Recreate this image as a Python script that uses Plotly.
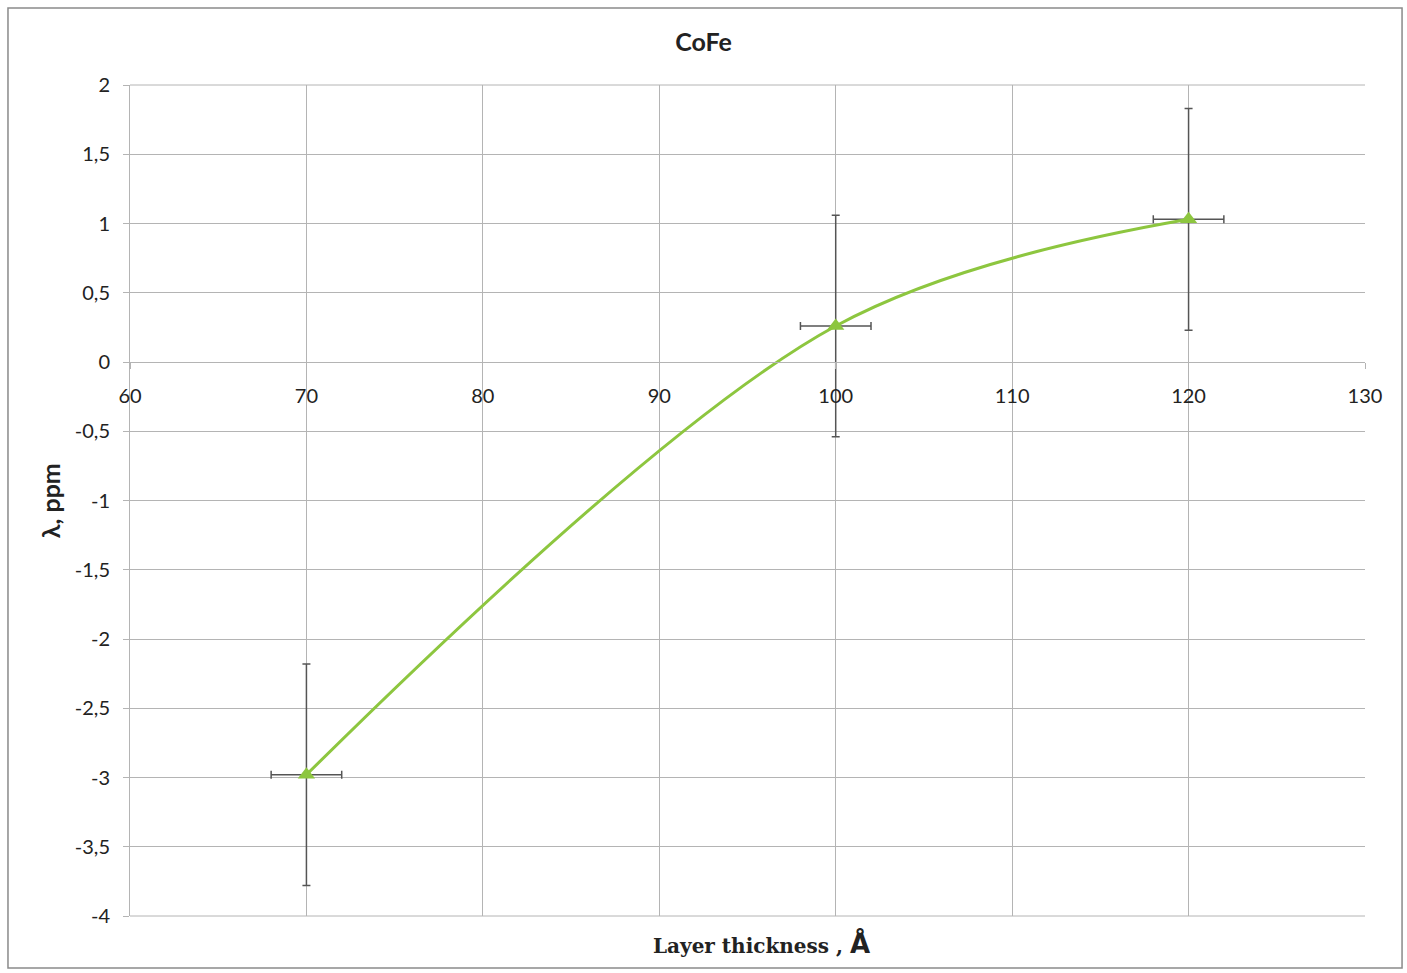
import plotly.graph_objects as go

# Layer thickness (Å) and magnetostriction (ppm) with error estimates
thickness = [70, 100, 120]
lambda_ppm = [-2.98, 0.26, 1.03]
lambda_err = [0.8, 0.8, 0.8]
thickness_err = [2, 2, 2]

x_ticks = [60, 70, 80, 90, 100, 110, 120, 130]
y_ticks = [2, 1.5, 1, 0.5, 0, -0.5, -1, -1.5, -2, -2.5, -3, -3.5, -4]
y_tick_text = [str(v).replace(".", ",") for v in y_ticks]

green = "#8dc63f"
grid = "#b4b4b4"
err_col = "#555555"

fig = go.Figure()
fig.add_trace(go.Scatter(
    x=thickness, y=lambda_ppm,
    mode="lines+markers",
    line=dict(color=green, width=3, shape="spline", smoothing=1.0),
    marker=dict(symbol="triangle-up", size=15, color=green),
    error_y=dict(type="data", array=lambda_err, color=err_col, thickness=1.5, width=4),
    error_x=dict(type="data", array=thickness_err, color=err_col, thickness=1.5, width=4),
    showlegend=False,
))

fig.update_layout(
    width=1407, height=973,
    margin=dict(l=130, r=42, t=85, b=57),
    paper_bgcolor="white", plot_bgcolor="white",
    font=dict(family="Lato, Open Sans, sans-serif", size=20, color="#222"),
    title=dict(text="<b>CoFe</b>", x=0.5, xanchor="center", y=0.957, yanchor="middle",
               font=dict(size=25, color="#222")),
    xaxis=dict(
        range=[60, 130], tickvals=x_ticks, ticktext=[str(v) for v in x_ticks],
        showgrid=True, gridcolor=grid, gridwidth=1,
        anchor="free", position=4 / 6,
        showline=True, linecolor=grid, linewidth=1,
        ticks="outside", ticklen=6, tickcolor=grid,
        ticklabelstandoff=10,
        zeroline=False, tickfont=dict(size=20),
    ),
    yaxis=dict(
        range=[-4, 2], tickvals=y_ticks, ticktext=y_tick_text,
        showgrid=True, gridcolor=grid, gridwidth=1,
        showline=True, linecolor=grid, linewidth=1,
        ticks="outside", ticklen=6, tickcolor=grid,
        ticklabelstandoff=9,
        zeroline=False, tickfont=dict(size=20),
    ),
    shapes=[
        # outer chart frame
        dict(type="rect", xref="paper", yref="paper", x0=-0.0988, x1=1.030, y0=-0.0626, y1=1.0927,
             line=dict(color="#8a8a8a", width=1.5), fillcolor="rgba(0,0,0,0)", layer="below"),
        # plot area border lines at top and bottom
        dict(type="line", xref="paper", yref="paper", x0=0, x1=1, y0=1, y1=1,
             line=dict(color=grid, width=1)),
        dict(type="line", xref="paper", yref="paper", x0=0, x1=1, y0=0, y1=0,
             line=dict(color=grid, width=1)),
    ],
    annotations=[
        dict(text="<b>Layer thickness , </b><span style='font-family:DejaVu Sans;font-size:26px'><b>Å</b></span>",
             xref="paper", yref="paper", x=0.511, y=-0.033, xanchor="center", yanchor="middle",
             showarrow=False, font=dict(family="DejaVu Serif, serif", size=20, color="#222")),
        dict(text="<b>λ, ppm</b>", textangle=-90,
             xref="paper", yref="paper", x=-0.065, y=0.5, xanchor="center", yanchor="middle",
             showarrow=False, font=dict(family="Lato, Open Sans, sans-serif", size=25, color="#222")),
    ],
)

fig.write_html("out.html")
